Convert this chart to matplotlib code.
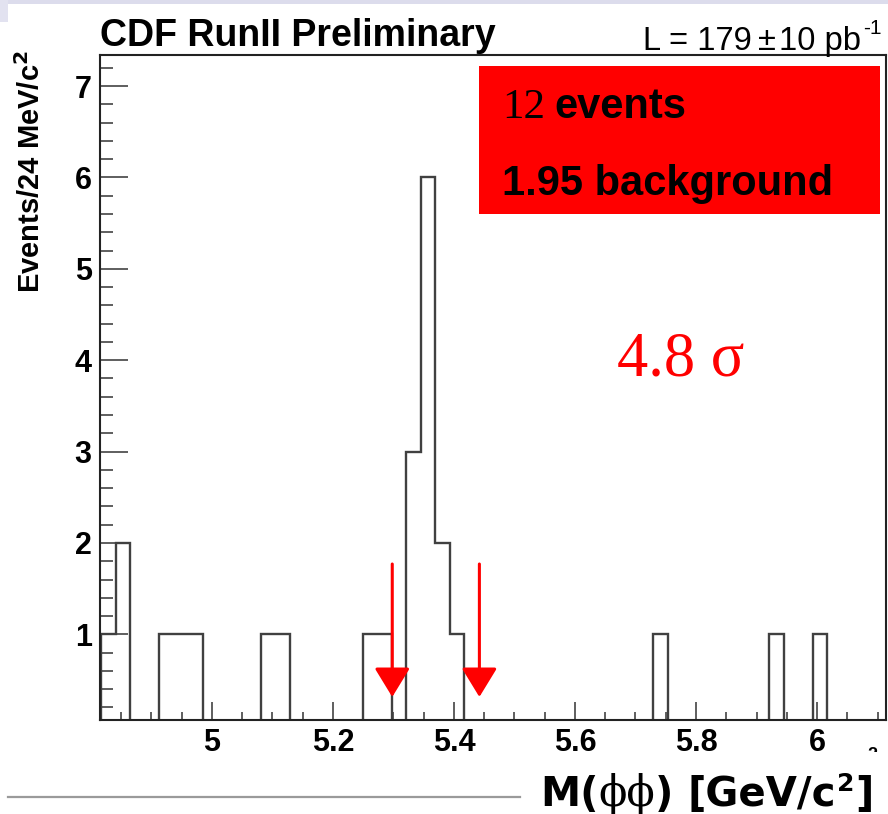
import matplotlib
matplotlib.use("Agg")
import matplotlib.pyplot as plt
from matplotlib.patches import Rectangle
from matplotlib.ticker import MultipleLocator

# ---- data -------------------------------------------------------------
# M(phi phi) histogram, 24 MeV/c^2 bins
bin_start = 4.817
bin_width = 0.024
counts = [1, 2, 0, 0, 1, 1, 1, 0, 0, 0,
          0, 1, 1, 0, 0, 0, 0, 0, 1, 1,
          0, 3, 6, 2, 1, 0, 0, 0, 0, 0,
          0, 0, 0, 0, 0, 0, 0, 0, 1, 0,
          0, 0, 0, 0, 0, 0, 1, 0, 0, 1,
          0, 0, 0, 0]

# signal window (arrows)
window_edges = [5.298, 5.442]
arrow_top = 1.77
arrow_tip = 0.315

x_ticks = [5.0, 5.2, 5.4, 5.6, 5.8, 6.0]
x_ticklabels = ["5", "5.2", "5.4", "5.6", "5.8", "6"]
y_ticks = [1, 2, 3, 4, 5, 6, 7]
y_ticklabels = ["1", "2", "3", "4", "5", "6", "7"]

n_events = "12"
n_background = "1.95"
significance = "4.8 σ"

# ---- figure -----------------------------------------------------------
W, H = 888, 814
fig = plt.figure(figsize=(W / 100, H / 100), dpi=100)
fig.patch.set_facecolor("white")

SANS = "Liberation Sans"
SERIF = "Liberation Serif"


def fx(px):
    return px / W


def fy(py):
    return 1 - py / H


# slide header strip
fig.add_artist(Rectangle((0, fy(4)), 1, 4 / H, transform=fig.transFigure,
                         facecolor="#dcdcec", edgecolor="none", zorder=0))
fig.add_artist(Rectangle((0, fy(22)), fx(8), 22 / H, transform=fig.transFigure,
                         facecolor="#e2e2f0", edgecolor="none", zorder=0))

ax = fig.add_axes([fx(100), fy(720), fx(786), 665 / H])
edges = [bin_start + i * bin_width for i in range(len(counts) + 1)]
ax.stairs(counts, edges, baseline=0, fill=False, color="#404040",
          linewidth=1.7, zorder=2)

ax.set_xlim(4.815, 6.114)
ax.set_ylim(0.063, 7.34)

for s in ax.spines.values():
    s.set_linewidth(1.5)
    s.set_color("#222222")

ax.set_xticks(x_ticks)
ax.set_xticklabels(x_ticklabels, fontfamily=SANS, fontweight="bold",
                   fontsize=22)
ax.set_yticks(y_ticks)
ax.set_yticklabels(y_ticklabels, fontfamily=SANS, fontweight="bold",
                   fontsize=22)
ax.xaxis.set_minor_locator(MultipleLocator(0.05))
ax.yaxis.set_minor_locator(MultipleLocator(0.2))
ax.tick_params(axis="x", which="major", direction="in", length=13,
               width=1.1, color="#333333", pad=6)
ax.tick_params(axis="x", which="minor", direction="in", length=5.8,
               width=1.1, color="#333333")
ax.tick_params(axis="y", which="major", direction="in", length=20,
               width=1.1, color="#333333", pad=6)
ax.tick_params(axis="y", which="minor", direction="in", length=9.4,
               width=1.1, color="#333333")

# window arrows
for xe in window_edges:
    ax.annotate("", xy=(xe, arrow_tip), xytext=(xe, arrow_top),
                arrowprops=dict(arrowstyle="-|>,head_length=18,head_width=11",
                                mutation_scale=1, color="#ff0000",
                                linewidth=2.2, shrinkA=0, shrinkB=0),
                zorder=3)

renderer = fig.canvas.get_renderer()


def pieces(x0, y0, parts, zorder=6):
    """Draw text pieces left to right on a common baseline (pixels)."""
    x = x0
    for text, kw, dy, gap in parts:
        t = fig.text(fx(x), fy(y0 - dy), text, ha="left", va="baseline",
                     zorder=zorder, **kw)
        bb = t.get_window_extent(renderer)
        x = bb.x1 + gap
    return x


# headings
fig.text(fx(100), fy(46), "CDF RunII Preliminary", fontfamily=SANS,
         fontweight="bold", fontsize=27, ha="left", va="baseline")
lum_kw = dict(fontfamily=SANS, fontsize=23.5)
pieces(643, 50, [("L = 179", lum_kw, 0, 6),
                 ("±", lum_kw, 0, 3),
                 ("10 pb", lum_kw, 0, 2),
                 ("-1", dict(fontfamily=SANS, fontsize=15), 16, 0)])

# y-axis title
fig.text(fx(31), fy(50), "Events/24 MeV/c$^{\\mathbf{2}}$", rotation=90,
         fontfamily=SANS, fontweight="bold", fontsize=21, ha="center",
         va="top")

# summary box
fig.add_artist(Rectangle((fx(479), fy(214)), fx(401), 148 / H,
                         transform=fig.transFigure, facecolor="#ff0000",
                         edgecolor="none", zorder=5))
bold30 = dict(fontfamily=SANS, fontweight="bold", fontsize=30)
pieces(502, 118, [(n_events, dict(fontfamily=SERIF, fontsize=31), 0, 9),
                  ("events", bold30, 0, 0)])
pieces(502, 195, [(n_background + " background", bold30, 0, 0)])

fig.text(fx(617), fy(375), significance, color="#ff0000", fontfamily=SERIF,
         fontsize=45, ha="left", va="baseline")

# axis title and underline
fig.text(fx(872), fy(760), "2", fontfamily=SANS, fontweight="bold",
         fontsize=13, ha="center", va="baseline", zorder=1)
fig.add_artist(Rectangle((fx(840), 0), fx(48), fy(752), transform=fig.transFigure,
                         facecolor="white", edgecolor="none", zorder=2))
fig.add_artist(plt.Line2D([fx(8), fx(520)], [fy(797), fy(797)],
                          transform=fig.transFigure, color="#9a9a9a",
                          linewidth=1.6, zorder=3))
big_kw = dict(fontfamily="DejaVu Sans", fontweight="bold", fontsize=29)
phi_kw = dict(fontfamily="DejaVu Serif", fontsize=30)
pieces(540, 806, [("M(", big_kw, 0, 0),
                  ("ϕϕ", phi_kw, 0, 0),
                  (")", big_kw, 0, 14),
                  ("[GeV/c", big_kw, 0, 1),
                  ("2", dict(fontfamily="DejaVu Sans", fontweight="bold",
                             fontsize=18), 15, 1),
                  ("]", big_kw, 0, 0)])

fig.savefig("out.png", dpi=100)
